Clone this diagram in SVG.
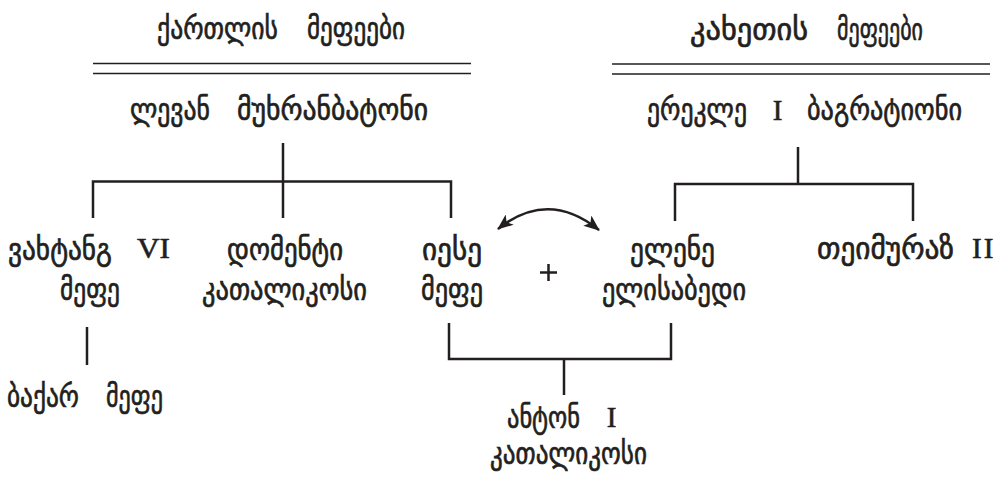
<svg xmlns="http://www.w3.org/2000/svg" width="1007" height="478" viewBox="0 0 1007 478">
<defs>
<style>
.g{font-family:"DejaVu Sans",sans-serif;font-size:31px;fill:#231f20;stroke:#231f20;stroke-width:0.7}
.r{font-family:"Liberation Serif","Times New Roman",serif;font-size:29px;fill:#231f20;stroke:#231f20;stroke-width:0.6}
.ln{stroke:#231f20;stroke-width:2.5;fill:none}
.dl{stroke:#231f20;stroke-width:1.5;fill:none}
</style>
<marker id="ah" viewBox="0 0 16 13" refX="15" refY="6.5" markerWidth="16" markerHeight="13" markerUnits="userSpaceOnUse" orient="auto-start-reverse">
<path d="M0,0 L16,6.5 L0,13 L4,6.5 Z" fill="#231f20"/>
</marker>
</defs>
<rect width="1007" height="478" fill="#fff"/>
<g id="connectors">
<path class="dl" d="M93,63.5H471M93,73.5H471"/>
<path class="dl" d="M612,64H990M612,74H990"/>
<path class="ln" d="M283,143V181.5M93,218V181.5H451V218M283,181.5V218"/>
<path class="ln" d="M798,147V184M675,221V184H913V221"/>
<path class="ln" d="M87,327V365"/>
<path class="ln" d="M449,323V359H671V323M564,359V395"/>
<path class="ln" d="M498,229Q548,189 599,230" marker-start="url(#ah)" marker-end="url(#ah)"/>
<path class="ln" d="M540,272.5H557M548.5,264V281" stroke-width="2"/>
</g>
<g id="title-kartli">
<text class="g" x="157" y="39" textLength="121" lengthAdjust="spacingAndGlyphs">ქართლის</text>
<text class="g" x="307" y="39" textLength="98" lengthAdjust="spacingAndGlyphs">მეფეები</text>
</g>
<g id="title-kakheti">
<text class="g" x="690" y="40" textLength="118" lengthAdjust="spacingAndGlyphs">კახეთის</text>
<text class="g" x="837" y="40" textLength="86" lengthAdjust="spacingAndGlyphs">მეფეები</text>
</g>
<g id="levan">
<text class="g" x="130" y="120" textLength="80" lengthAdjust="spacingAndGlyphs">ლევან</text>
<text class="g" x="237" y="120" textLength="191" lengthAdjust="spacingAndGlyphs">მუხრანბატონი</text>
</g>
<g id="erekle">
<text class="g" x="647" y="120" textLength="100" lengthAdjust="spacingAndGlyphs">ერეკლე</text>
<text class="r" x="777.5" y="120" text-anchor="middle">I</text>
<text class="g" x="807" y="120" textLength="155" lengthAdjust="spacingAndGlyphs">ბაგრატიონი</text>
</g>
<g id="vakhtang">
<text class="g" x="8" y="260" textLength="104" lengthAdjust="spacingAndGlyphs">ვახტანგ</text>
<text class="r" x="137" y="258" textLength="33" lengthAdjust="spacingAndGlyphs">VI</text>
<text class="g" x="60" y="300" textLength="60" lengthAdjust="spacingAndGlyphs">მეფე</text>
</g>
<g id="domenti">
<text class="g" x="227" y="260" textLength="116" lengthAdjust="spacingAndGlyphs">დომენტი</text>
<text class="g" x="202" y="300" textLength="165" lengthAdjust="spacingAndGlyphs">კათალიკოსი</text>
</g>
<g id="iese">
<text class="g" x="422" y="260" textLength="60" lengthAdjust="spacingAndGlyphs">იესე</text>
<text class="g" x="421" y="300" textLength="62" lengthAdjust="spacingAndGlyphs">მეფე</text>
</g>
<g id="elene">
<text class="g" x="630" y="260" textLength="85" lengthAdjust="spacingAndGlyphs">ელენე</text>
<text class="g" x="602" y="300" textLength="144" lengthAdjust="spacingAndGlyphs">ელისაბედი</text>
</g>
<g id="teimuraz">
<text class="g" x="817" y="259" textLength="137" lengthAdjust="spacingAndGlyphs">თეიმურაზ</text>
<text class="r" x="972" y="258" letter-spacing="2">II</text>
</g>
<g id="bakar">
<text class="g" x="7" y="407" textLength="72" lengthAdjust="spacingAndGlyphs">ბაქარ</text>
<text class="g" x="106" y="407" textLength="57" lengthAdjust="spacingAndGlyphs">მეფე</text>
</g>
<g id="anton">
<text class="g" x="507" y="428" textLength="73" lengthAdjust="spacingAndGlyphs">ანტონ</text>
<text class="r" x="611.5" y="427" text-anchor="middle">I</text>
<text class="g" x="490" y="464" textLength="157" lengthAdjust="spacingAndGlyphs">კათალიკოსი</text>
</g>
</svg>
